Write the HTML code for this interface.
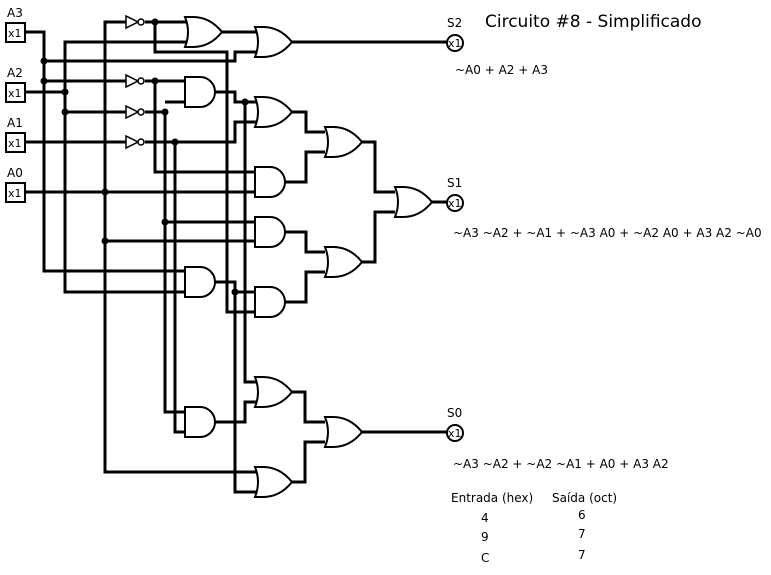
<!DOCTYPE html>
<html><head><meta charset="utf-8"><style>
html,body{margin:0;padding:0;background:#fff;width:771px;height:575px;overflow:hidden}
svg{display:block}
text{font-family:"DejaVu Sans","Liberation Sans",sans-serif;fill:#000}
</style></head><body>
<svg width="771" height="575" viewBox="0 0 771 575" xmlns="http://www.w3.org/2000/svg">
<defs>
<path id="and" d="M0,0 h15 a15,15 0 0 1 0,30 h-15 z" fill="#fff" stroke="#000" stroke-width="2"/>
<path id="or" d="M0,0 h8 q17,0 29,15 q-12,15 -29,15 h-8 q6,-15 0,-30 z" fill="#fff" stroke="#000" stroke-width="2"/>
<g id="not"><path d="M0,-6 L12,0 L0,6 z" fill="#fff" stroke="#000" stroke-width="1.5"/><circle cx="15" cy="0" r="3" fill="#fff" stroke="#000" stroke-width="1.5"/></g>
</defs>
<g fill="none" stroke="#000" stroke-width="3">
<polyline points="25,32 44,32 44,271 185,271"/>
<polyline points="44,61 235,61 235,52 257,52"/>
<polyline points="44,81 126,81"/>
<polyline points="25,92 65,92"/>
<polyline points="188,42 65,42 65,292 185,292"/>
<polyline points="65,112 126,112"/>
<polyline points="25,142 126,142"/>
<polyline points="25,192 255,192"/>
<polyline points="126,22 105,22 105,472 258,472"/>
<polyline points="105,241 255,241"/>
<polyline points="145,22 188,22"/>
<polyline points="155,22 155,52 227,52 227,312 255,312"/>
<polyline points="145,81 185,81"/>
<polyline points="155,81 155,172 255,172"/>
<polyline points="145,112 165,112 165,412 185,412"/>
<polyline points="165,102 185,102"/>
<polyline points="165,222 255,222"/>
<polyline points="145,142 235,142 235,122 257,122"/>
<polyline points="175,142 175,432 185,432"/>
<polyline points="215,92 235,92 235,102 257,102"/>
<polyline points="245,102 245,382 257,382"/>
<polyline points="215,32 257,32"/>
<polyline points="285,42 447,42"/>
<polyline points="285,112 306,112 306,132 325,132"/>
<polyline points="285,182 306,182 306,152 325,152"/>
<polyline points="355,142 375,142 375,192 395,192"/>
<polyline points="355,262 375,262 375,212 395,212"/>
<polyline points="285,232 306,232 306,252 325,252"/>
<polyline points="285,302 306,302 306,272 325,272"/>
<polyline points="215,282 235,282 235,492 258,492"/>
<polyline points="235,292 255,292"/>
<polyline points="425,202 447,202"/>
<polyline points="215,422 245,422 245,402 257,402"/>
<polyline points="285,392 305,392 305,422 325,422"/>
<polyline points="285,482 305,482 305,442 325,442"/>
<polyline points="355,432 447,432"/>
</g>
<g fill="#000">
<circle cx="44" cy="61" r="3.5"/><circle cx="44" cy="81" r="3.5"/>
<circle cx="65" cy="92" r="3.5"/><circle cx="65" cy="112" r="3.5"/>
<circle cx="105" cy="192" r="3.5"/><circle cx="105" cy="241" r="3.5"/>
<circle cx="155" cy="22" r="3.5"/><circle cx="155" cy="81" r="3.5"/>
<circle cx="165" cy="112" r="3.5"/><circle cx="175" cy="142" r="3.5"/>
<circle cx="165" cy="222" r="3.5"/><circle cx="245" cy="102" r="3.5"/>
<circle cx="235" cy="292" r="3.5"/>
</g>
<use href="#not" x="126" y="22"/><use href="#not" x="126" y="81"/>
<use href="#not" x="126" y="112"/><use href="#not" x="126" y="142"/>
<use href="#and" x="185" y="77"/><use href="#and" x="255" y="167"/>
<use href="#and" x="255" y="217"/><use href="#and" x="255" y="287"/>
<use href="#and" x="185" y="267"/><use href="#and" x="185" y="407"/>
<use href="#or" x="185" y="17"/><use href="#or" x="255" y="27"/>
<use href="#or" x="255" y="97"/><use href="#or" x="325" y="127"/>
<use href="#or" x="325" y="247"/><use href="#or" x="395" y="187"/>
<use href="#or" x="255" y="377"/><use href="#or" x="255" y="467"/>
<use href="#or" x="325" y="417"/>
<g fill="#fff" stroke="#000" stroke-width="2">
<rect x="6" y="23" width="19" height="19"/><rect x="6" y="83" width="19" height="19"/>
<rect x="6" y="133" width="19" height="19"/><rect x="6" y="183" width="19" height="19"/>
<circle cx="455" cy="43" r="8"/><circle cx="455" cy="203" r="8"/><circle cx="455" cy="433" r="8"/>
</g>
<g font-size="12">
<text x="7" y="17">A3</text><text x="7" y="77">A2</text><text x="7" y="127">A1</text><text x="7" y="177">A0</text>
<text x="447" y="27">S2</text><text x="447" y="187">S1</text><text x="447" y="417">S0</text>
<text x="455" y="74">~A0 + A2 + A3</text>
<text x="453" y="237">~A3 ~A2 + ~A1 + ~A3 A0 + ~A2 A0 + A3 A2 ~A0</text>
<text x="453" y="468">~A3 ~A2 + ~A2 ~A1 + A0 + A3 A2</text>
<text x="451" y="502">Entrada (hex)</text><text x="552" y="502">Saída (oct)</text>
<text x="481" y="522">4</text><text x="578" y="519">6</text>
<text x="481" y="541">9</text><text x="578" y="538">7</text>
<text x="481" y="562">C</text><text x="578" y="559">7</text>
</g>
<g font-size="11">
<text x="8" y="37">x1</text><text x="8" y="97">x1</text><text x="8" y="147">x1</text><text x="8" y="197">x1</text>
<text x="448" y="47">x1</text><text x="448" y="207">x1</text><text x="448" y="437">x1</text>
</g>
<text x="485" y="27" font-size="17">Circuito #8 - Simplificado</text>
</svg>
</body></html>
